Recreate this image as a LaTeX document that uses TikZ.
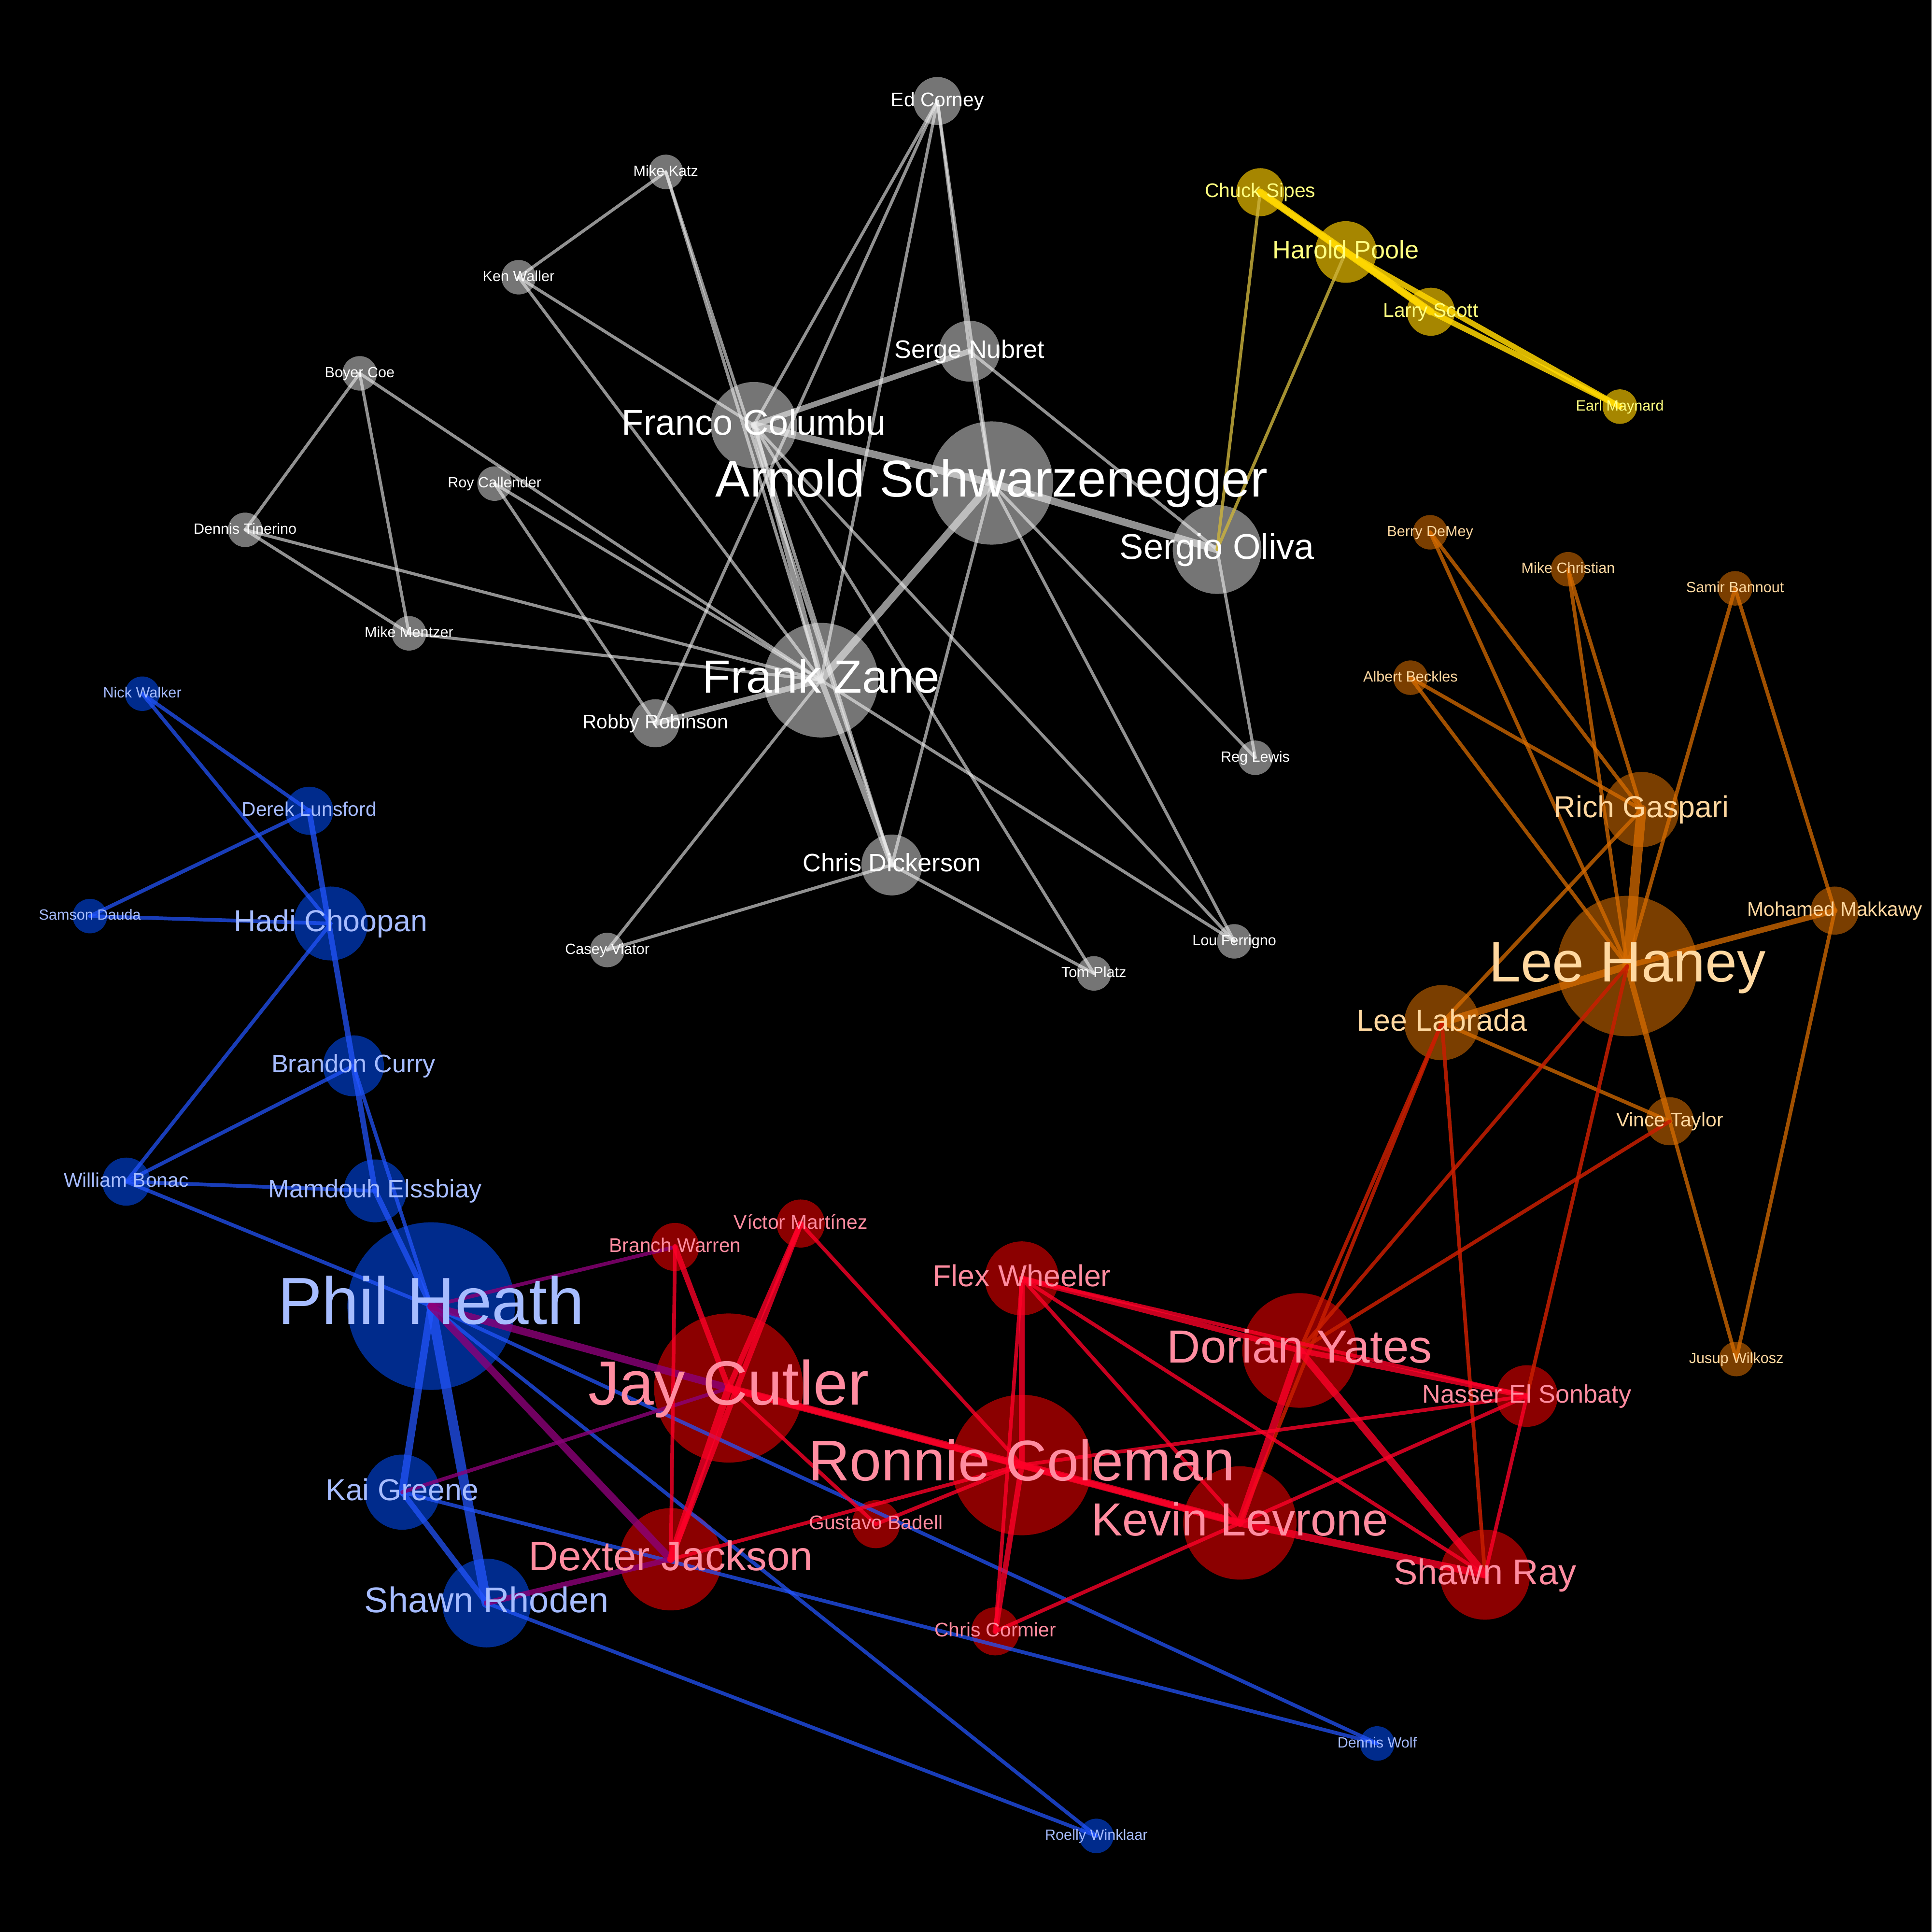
\documentclass[tikz,border=0pt]{standalone}
\usepackage{fontspec}
\setmainfont{Liberation Sans}
\usepackage{tikz}

\definecolor{gfill}{RGB}{117,117,117}
\definecolor{gline}{RGB}{235,235,235}
\definecolor{yfill}{RGB}{166,134,0}
\definecolor{yline}{RGB}{255,215,0}
\definecolor{ytext}{RGB}{255,255,128}
\definecolor{oline2}{RGB}{205,180,60}
\definecolor{ofill}{RGB}{122,62,0}
\definecolor{oline}{RGB}{215,108,0}
\definecolor{otext}{RGB}{255,216,160}
\definecolor{bfill}{RGB}{0,43,140}
\definecolor{bline}{RGB}{35,85,255}
\definecolor{btext}{RGB}{166,188,255}
\definecolor{rfill}{RGB}{139,0,0}
\definecolor{rline}{RGB}{255,0,40}
\definecolor{rtext}{RGB}{255,140,160}
\definecolor{pline}{RGB}{140,0,120}
\definecolor{orline}{RGB}{200,30,0}

\tikzset{
  ball/.style={circle, inner sep=0pt, draw=none},
  rad/.style={minimum size=2*#1},
  fs/.style={font=\fontsize{#1}{#1}\selectfont, anchor=base, yshift=-0.27*#1},
  gnode/.style={ball, fill=gfill},
  ynode/.style={ball, fill=yfill},
  onode/.style={ball, fill=ofill},
  bnode/.style={ball, fill=bfill},
  rnode/.style={ball, fill=rfill},
  glab/.style={inner sep=0pt, text=white},
  ylab/.style={inner sep=0pt, text=ytext},
  olab/.style={inner sep=0pt, text=otext},
  blab/.style={inner sep=0pt, text=btext},
  rlab/.style={inner sep=0pt, text=rtext},
  edge/.style={line width=2.5pt, line cap=round},
  gedge/.style={edge, draw=gline, draw opacity=.62},
  yedge/.style={edge, draw=yline, draw opacity=.85},
  yoedge/.style={edge, draw=oline2, draw opacity=.8},
  oedge/.style={edge, draw=oline, draw opacity=.75},
  bedge/.style={edge, draw=bline, draw opacity=.72},
  redge/.style={edge, line width=3pt, draw=rline, draw opacity=.78},
  pedge/.style={edge, line width=3pt, draw=pline, draw opacity=.8},
  oredge/.style={edge, line width=3pt, draw=orline, draw opacity=.85},
  wmid/.style={line width=4.5pt},
  wfat/.style={line width=6pt},
  wxfat/.style={line width=8pt}
}

\begin{document}
\begin{tikzpicture}[x=1pt,y=-1pt]
  \fill[black] (0,0) rectangle (1568,1568);
  \useasboundingbox (0,0) rectangle (1568,1568);

  % gray group
  \node[gnode, rad=19.5] (ed) at (761,82) {};
  \node[gnode, rad=14] (katz) at (540.5,139.5) {};
  \node[gnode, rad=14] (waller) at (421,225) {};
  \node[gnode, rad=24.7] (nubret) at (787,285) {};
  \node[gnode, rad=14] (boyer) at (292,303) {};
  \node[gnode, rad=35] (franco) at (612,345) {};
  \node[gnode, rad=50] (arnold) at (805,392) {};
  \node[gnode, rad=14] (callender) at (401.5,392.5) {};
  \node[gnode, rad=36] (oliva) at (988,446) {};
  \node[gnode, rad=14] (tinerino) at (199,430) {};
  \node[gnode, rad=14] (mentzer) at (332,514) {};
  \node[gnode, rad=46.5] (zane) at (666.5,552) {};
  \node[gnode, rad=19.5] (robby) at (532,587) {};
  \node[gnode, rad=14] (reglewis) at (1019,615) {};
  \node[gnode, rad=24.7] (dickerson) at (724,702) {};
  \node[gnode, rad=14] (casey) at (493,771) {};
  \node[gnode, rad=14] (platz) at (888,790) {};
  \node[gnode, rad=14] (ferrigno) at (1002,764) {};

  % yellow group
  \node[ynode, rad=19.5] (sipes) at (1023,156) {};
  \node[ynode, rad=25] (poole) at (1092.5,204.5) {};
  \node[ynode, rad=19.5] (scott) at (1161.5,253) {};
  \node[ynode, rad=14] (maynard) at (1315,330) {};

  % orange group
  \node[onode, rad=14] (demey) at (1161,432) {};
  \node[onode, rad=14] (christian) at (1273,462) {};
  \node[onode, rad=14] (bannout) at (1408.5,477.5) {};
  \node[onode, rad=14] (beckles) at (1145,550) {};
  \node[onode, rad=30.5] (gaspari) at (1332.5,657) {};
  \node[onode, rad=19.5] (makkawy) at (1489.5,739) {};
  \node[onode, rad=57] (haney) at (1321,784) {};
  \node[onode, rad=30.5] (labrada) at (1170.5,830) {};
  \node[onode, rad=19.5] (taylor) at (1355.5,910) {};
  \node[onode, rad=14] (wilkosz) at (1409.5,1103) {};

  % blue group
  \node[bnode, rad=14] (walker) at (115.5,563) {};
  \node[bnode, rad=19.5] (lunsford) at (251,658) {};
  \node[bnode, rad=14] (dauda) at (73,743.5) {};
  \node[bnode, rad=30] (choopan) at (268.5,749.5) {};
  \node[bnode, rad=24.7] (curry) at (287,865) {};
  \node[bnode, rad=19.5] (bonac) at (102.5,959) {};
  \node[bnode, rad=25.5] (elssbiay) at (304.5,966.5) {};
  \node[bnode, rad=68] (heath) at (350,1060) {};
  \node[bnode, rad=30.5] (greene) at (326.5,1211) {};
  \node[bnode, rad=36] (rhoden) at (395,1301) {};
  \node[bnode, rad=14] (wolf) at (1118,1415) {};
  \node[bnode, rad=14] (winklaar) at (890,1490) {};

  % red group
  \node[rnode, rad=19.5] (warren) at (548,1012) {};
  \node[rnode, rad=19.5] (martinez) at (650,993) {};
  \node[rnode, rad=60.5] (cutler) at (591.5,1126.5) {};
  \node[rnode, rad=30] (wheeler) at (829.5,1037.5) {};
  \node[rnode, rad=46.5] (yates) at (1055,1096) {};
  \node[rnode, rad=25] (sonbaty) at (1239.5,1133) {};
  \node[rnode, rad=57] (coleman) at (829.5,1189) {};
  \node[rnode, rad=19.5] (badell) at (711,1237) {};
  \node[rnode, rad=46] (levrone) at (1006.5,1236) {};
  \node[rnode, rad=41.5] (jackson) at (544.5,1265.5) {};
  \node[rnode, rad=36.5] (ray) at (1205.5,1278) {};
  \node[rnode, rad=19.5] (cormier) at (808,1324) {};

  % edges: gray
  \foreach \a/\b in {ed/franco, ed/zane, ed/robby, ed/arnold, ed/nubret, nubret/arnold,
      katz/waller, katz/zane, katz/dickerson, waller/franco, waller/zane,
      boyer/tinerino, boyer/mentzer, boyer/zane, callender/zane, callender/robby,
      tinerino/mentzer, tinerino/zane, mentzer/zane, franco/dickerson, franco/platz,
      franco/ferrigno, arnold/dickerson, arnold/reglewis, arnold/ferrigno,
      nubret/oliva, oliva/reglewis, zane/casey, zane/ferrigno, dickerson/casey,
      dickerson/platz}
    \draw[gedge] (\a.center) -- (\b.center);
  \foreach \a/\b in {franco/nubret, franco/zane, zane/robby, zane/dickerson}
    \draw[gedge, wmid] (\a.center) -- (\b.center);
  \foreach \a/\b in {franco/arnold, arnold/oliva, arnold/zane}
    \draw[gedge, wfat] (\a.center) -- (\b.center);

  % edges: yellow
  \draw[yoedge] (oliva.center) -- (sipes.center);
  \draw[yoedge] (oliva.center) -- (poole.center);
  \foreach \a/\b in {poole/maynard, scott/maynard, sipes/scott}
    \draw[yedge, wmid] (\a.center) -- (\b.center);
  \foreach \a/\b in {sipes/poole, poole/scott}
    \draw[yedge, wfat] (\a.center) -- (\b.center);

  % edges: orange
  \foreach \a/\b in {demey/gaspari, demey/haney, christian/gaspari, christian/haney,
      bannout/haney, bannout/makkawy, beckles/gaspari, beckles/haney,
      gaspari/labrada, labrada/taylor, taylor/wilkosz, makkawy/wilkosz}
    \draw[oedge, line width=3pt] (\a.center) -- (\b.center);
  \foreach \a/\b in {haney/makkawy, haney/taylor}
    \draw[oedge, wmid] (\a.center) -- (\b.center);
  \draw[oedge, wfat] (haney.center) -- (labrada.center);
  \draw[oedge, wxfat] (gaspari.center) -- (haney.center);

  % edges: orange to red
  \foreach \a/\b in {labrada/yates, labrada/levrone, labrada/ray, haney/yates,
      haney/sonbaty, taylor/yates}
    \draw[oredge] (\a.center) -- (\b.center);

  % edges: blue
  \foreach \a/\b in {walker/lunsford, walker/choopan, dauda/lunsford, dauda/choopan,
      choopan/bonac, curry/bonac, bonac/elssbiay, bonac/heath, curry/heath,
      heath/wolf, heath/winklaar, greene/wolf, rhoden/winklaar}
    \draw[bedge, line width=3pt] (\a.center) -- (\b.center);
  \foreach \a/\b in {lunsford/elssbiay, elssbiay/heath, greene/rhoden}
    \draw[bedge, wmid] (\a.center) -- (\b.center);
  \draw[bedge, wfat] (heath.center) -- (greene.center);
  \draw[bedge, wxfat] (heath.center) -- (rhoden.center);

  % edges: blue to red
  \foreach \a/\b in {heath/warren, greene/cutler}
    \draw[pedge] (\a.center) -- (\b.center);
  \draw[pedge, wmid] (rhoden.center) -- (jackson.center);
  \foreach \a/\b in {heath/cutler, heath/jackson}
    \draw[pedge, wfat] (\a.center) -- (\b.center);

  % edges: red
  \foreach \a/\b in {warren/jackson, martinez/coleman, cutler/badell, jackson/coleman,
      badell/coleman, wheeler/cormier, wheeler/sonbaty, wheeler/levrone, wheeler/ray,
      coleman/sonbaty, sonbaty/cormier, sonbaty/ray}
    \draw[redge] (\a.center) -- (\b.center);
  \foreach \a/\b in {warren/cutler, martinez/cutler, martinez/jackson, cutler/levrone,
      wheeler/coleman, coleman/cormier, wheeler/yates, yates/sonbaty}
    \draw[redge, wmid] (\a.center) -- (\b.center);
  \foreach \a/\b in {cutler/jackson, cutler/coleman, coleman/levrone, levrone/ray,
      yates/levrone, yates/ray}
    \draw[redge, wfat] (\a.center) -- (\b.center);

  % labels last, so no edge covers them
  \node[glab, fs=16] (ed-t) at (ed) {Ed Corney};
  \node[glab, fs=12] (katz-t) at (katz) {Mike Katz};
  \node[glab, fs=12] (waller-t) at (waller) {Ken Waller};
  \node[glab, fs=20.5] (nubret-t) at (nubret) {Serge Nubret};
  \node[glab, fs=12] (boyer-t) at (boyer) {Boyer Coe};
  \node[glab, fs=29] (franco-t) at (franco) {Franco Columbu};
  \node[glab, fs=42] (arnold-t) at (arnold) {Arnold Schwarzenegger};
  \node[glab, fs=12] (callender-t) at (callender) {Roy Callender};
  \node[glab, fs=29] (oliva-t) at (oliva) {Sergio Oliva};
  \node[glab, fs=12] (tinerino-t) at (tinerino) {Dennis Tinerino};
  \node[glab, fs=12] (mentzer-t) at (mentzer) {Mike Mentzer};
  \node[glab, fs=37.7] (zane-t) at (zane) {Frank Zane};
  \node[glab, fs=16] (robby-t) at (robby) {Robby Robinson};
  \node[glab, fs=12] (reglewis-t) at (reglewis) {Reg Lewis};
  \node[glab, fs=20.5] (dickerson-t) at (dickerson) {Chris Dickerson};
  \node[glab, fs=12] (casey-t) at (casey) {Casey Viator};
  \node[glab, fs=12] (platz-t) at (platz) {Tom Platz};
  \node[glab, fs=12] (ferrigno-t) at (ferrigno) {Lou Ferrigno};

  \node[ylab, fs=16] (sipes-t) at (sipes) {Chuck Sipes};
  \node[ylab, fs=20.5] (poole-t) at (poole) {Harold Poole};
  \node[ylab, fs=16] (scott-t) at (scott) {Larry Scott};
  \node[ylab, fs=12] (maynard-t) at (maynard) {Earl Maynard};

  \node[olab, fs=12] (demey-t) at (demey) {Berry DeMey};
  \node[olab, fs=12] (christian-t) at (christian) {Mike Christian};
  \node[olab, fs=12] (bannout-t) at (bannout) {Samir Bannout};
  \node[olab, fs=12] (beckles-t) at (beckles) {Albert Beckles};
  \node[olab, fs=24.6] (gaspari-t) at (gaspari) {Rich Gaspari};
  \node[olab, fs=16] (makkawy-t) at (makkawy) {Mohamed Makkawy};
  \node[olab, fs=46.5] (haney-t) at (haney) {Lee Haney};
  \node[olab, fs=24.6] (labrada-t) at (labrada) {Lee Labrada};
  \node[olab, fs=16] (taylor-t) at (taylor) {Vince Taylor};
  \node[olab, fs=12] (wilkosz-t) at (wilkosz) {Jusup Wilkosz};

  \node[blab, fs=12] (walker-t) at (walker) {Nick Walker};
  \node[blab, fs=16] (lunsford-t) at (lunsford) {Derek Lunsford};
  \node[blab, fs=12] (dauda-t) at (dauda) {Samson Dauda};
  \node[blab, fs=24.6] (choopan-t) at (choopan) {Hadi Choopan};
  \node[blab, fs=20.5] (curry-t) at (curry) {Brandon Curry};
  \node[blab, fs=16] (bonac-t) at (bonac) {William Bonac};
  \node[blab, fs=20.5] (elssbiay-t) at (elssbiay) {Mamdouh Elssbiay};
  \node[blab, fs=54] (heath-t) at (heath) {Phil Heath};
  \node[blab, fs=24.6] (greene-t) at (greene) {Kai Greene};
  \node[blab, fs=29] (rhoden-t) at (rhoden) {Shawn Rhoden};
  \node[blab, fs=12] (wolf-t) at (wolf) {Dennis Wolf};
  \node[blab, fs=12] (winklaar-t) at (winklaar) {Roelly Winklaar};

  \node[rlab, fs=16] (warren-t) at (warren) {Branch Warren};
  \node[rlab, fs=16] (martinez-t) at (martinez) {Víctor Martínez};
  \node[rlab, fs=50.6] (cutler-t) at (cutler) {Jay Cutler};
  \node[rlab, fs=24.6] (wheeler-t) at (wheeler) {Flex Wheeler};
  \node[rlab, fs=37.7] (yates-t) at (yates) {Dorian Yates};
  \node[rlab, fs=20.5] (sonbaty-t) at (sonbaty) {Nasser El Sonbaty};
  \node[rlab, fs=46.5] (coleman-t) at (coleman) {Ronnie Coleman};
  \node[rlab, fs=16] (badell-t) at (badell) {Gustavo Badell};
  \node[rlab, fs=37.7] (levrone-t) at (levrone) {Kevin Levrone};
  \node[rlab, fs=33.5] (jackson-t) at (jackson) {Dexter Jackson};
  \node[rlab, fs=29] (ray-t) at (ray) {Shawn Ray};
  \node[rlab, fs=16] (cormier-t) at (cormier) {Chris Cormier};
\end{tikzpicture}
\end{document}
